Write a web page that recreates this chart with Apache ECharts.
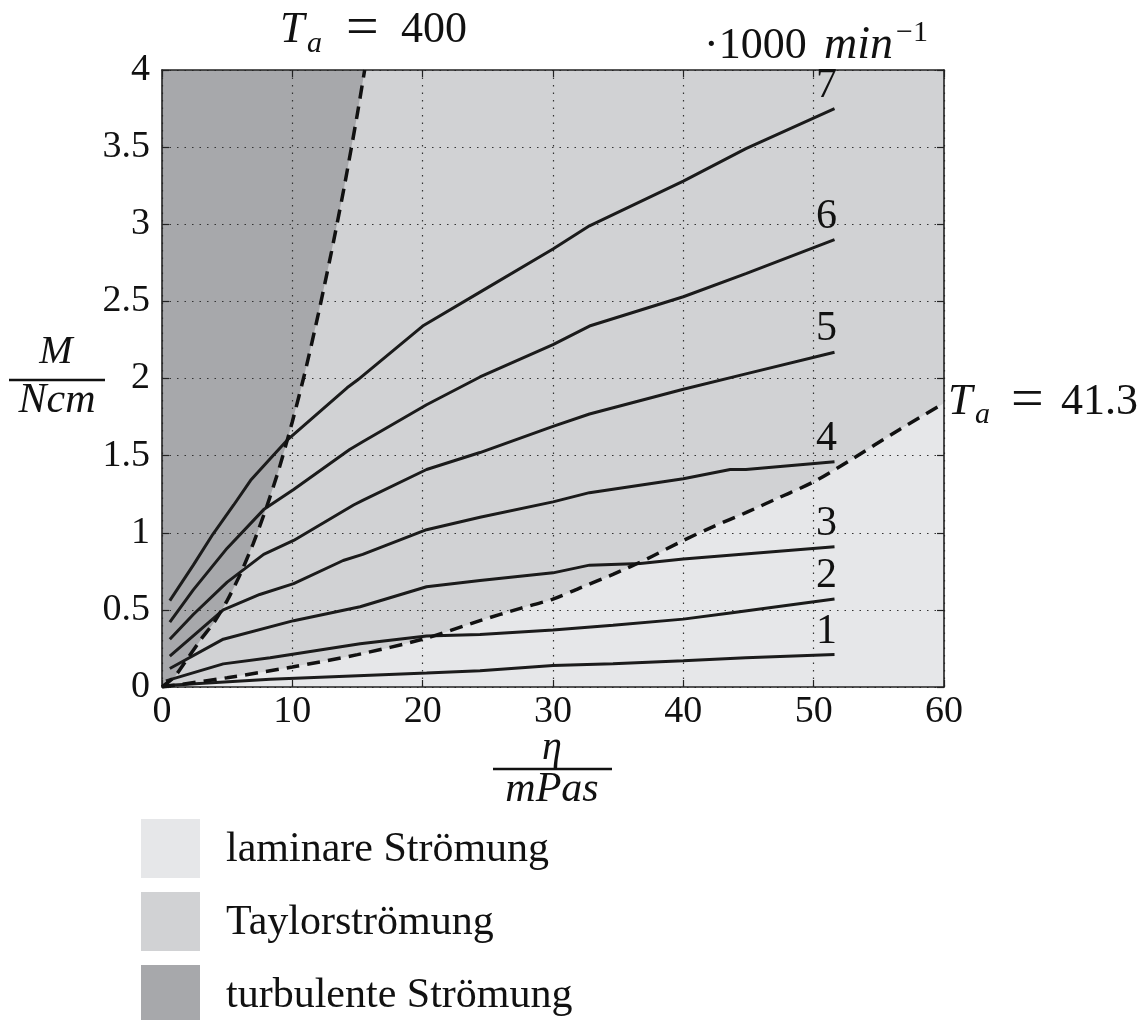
<!DOCTYPE html>
<html>
<head>
<meta charset="utf-8">
<title>Drehmoment über Viskosität</title>
<script src="https://cdn.jsdelivr.net/npm/echarts@6/dist/echarts.min.js"></script>
<style>
  html, body { margin: 0; padding: 0; background: #fff; }
  #main { width: 1147px; height: 1020px; }
</style>
</head>
<body>
<div id="main"></div>
<script>
    // Messkurven M/Ncm über eta/mPas, je Drehzahl in 1000 min^-1
    var n1 = [[0.3,0.01],[8.3,0.05],[20.3,0.09],[24.4,0.105],[30,0.14],[34.6,0.15],[40,0.17],[44.8,0.19],[51.6,0.21]];
    var n2 = [[0.3,0.04],[4.7,0.15],[8.3,0.19],[15.2,0.28],[20.3,0.33],[24.4,0.34],[30,0.37],[34.6,0.40],[40,0.44],[43.6,0.48],[51.6,0.57]];
    var n3 = [[0.6,0.12],[4.7,0.31],[10.1,0.43],[15.2,0.52],[20.3,0.65],[24.4,0.69],[30,0.74],[32.8,0.79],[36.7,0.80],[40,0.83],[51.6,0.91]];
    var n4 = [[0.6,0.20],[4.7,0.50],[7.5,0.60],[10.1,0.67],[13.9,0.82],[15.4,0.86],[20.3,1.02],[24.4,1.10],[30,1.20],[32.8,1.26],[40,1.35],[43.6,1.41],[44.8,1.41],[51.6,1.46]];
    var n5 = [[0.6,0.31],[2.4,0.47],[5,0.68],[7.8,0.86],[10.1,0.95],[14.7,1.18],[15.4,1.21],[20.3,1.41],[24.4,1.52],[30,1.69],[32.8,1.77],[40,1.93],[44.8,2.03],[51.6,2.17]];
    var n6 = [[0.6,0.42],[2.4,0.63],[5,0.90],[7.8,1.15],[10.1,1.28],[14.4,1.54],[15.4,1.59],[20.3,1.83],[24.4,2.01],[30,2.22],[32.8,2.34],[40,2.53],[44.8,2.68],[51.6,2.90]];
    var n7 = [[0.6,0.56],[2.4,0.79],[3.9,0.99],[5.5,1.18],[6.8,1.34],[8.3,1.48],[9.6,1.60],[14.2,1.94],[15,1.99],[20,2.34],[24.4,2.56],[30,2.84],[32.8,2.99],[40,3.28],[44.8,3.49],[51.6,3.75]];
    var kurven = [n1, n2, n3, n4, n5, n6, n7];
    var kurvenNamen = ['1', '2', '3', '4', '5', '6', '7'];

    // Grenzkurven Ta = 41.3 (laminar/Taylor) und Ta = 400 (Taylor/turbulent)
    var ta41 = [[0,0],[5,0.06],[10,0.13],[15,0.21],[20,0.31],[24.4,0.43],[27.5,0.51],[30,0.57],[32,0.64],[34.6,0.73],[37.2,0.83],[40,0.95],[42.3,1.04],[44.8,1.13],[47.4,1.23],[50,1.33],[52.8,1.47],[56.6,1.67],[60,1.84]];
    var ta400 = [[0,0],[1,0.07],[2,0.19],[3,0.31],[4,0.42],[5,0.56],[6,0.73],[7,0.93],[8,1.16],[9,1.42],[10,1.72],[11,2.05],[12,2.42],[13,2.82],[14,3.25],[15,3.72],[15.55,4]];

    var xMin = 0, xMax = 60, xStep = 10;
    var yMin = 0, yMax = 4, yStep = 0.5;

    var farben = { laminar: '#e6e7e9', taylor: '#d1d2d4', turbulent: '#a7a8ab' };
    var legende = [
        ['laminare Strömung', farben.laminar],
        ['Taylorströmung', farben.taylor],
        ['turbulente Strömung', farben.turbulent]
    ];

    var FONT = 'Liberation Serif';
    var myChart = echarts.init(document.getElementById('main'));

    function txt(x, y, s, size, italic, align) {
        return {
            type: 'text', x: x, y: y, z: 10,
            style: {
                text: s, fontFamily: FONT, fontSize: size,
                fontStyle: italic ? 'italic' : 'normal',
                fill: '#111', align: align || 'left', verticalAlign: 'middle'
            }
        };
    }

    function achse(pos, isX, main) {
        return {
            type: 'value',
            position: pos,
            min: isX ? xMin : yMin,
            max: isX ? xMax : yMax,
            interval: isX ? xStep : yStep,
            z: 2,
            axisLine: { show: true, onZero: false, lineStyle: { color: '#222', width: 1.6 } },
            axisTick: { show: true, inside: true, length: 7, lineStyle: { color: '#222', width: 1.2 } },
            axisLabel: {
                show: main, fontFamily: FONT, fontSize: 38, color: '#111', margin: isX ? 6 : 12
            },
            splitLine: { show: main, lineStyle: { type: [1.5, 6], color: '#333', width: 1.2 } }
        };
    }

    var series = [
        {
            type: 'line', data: ta41, smooth: 0.3, symbol: 'none', silent: true, z: 1,
            lineStyle: { width: 0, opacity: 0 },
            areaStyle: { color: farben.laminar, opacity: 1, origin: 'start' }
        },
        {
            type: 'line', data: ta400, smooth: 0.2, symbol: 'none', silent: true, z: 1,
            lineStyle: { width: 0, opacity: 0 },
            areaStyle: { color: farben.turbulent, opacity: 1, origin: 'end' }
        }
    ];

    kurven.forEach(function (d, i) {
        series.push({
            type: 'line', data: d, symbol: 'none', z: 3,
            lineStyle: { color: '#1b1b1b', width: 3 },
            endLabel: {
                show: true, formatter: kurvenNamen[i], align: 'center',
                offset: [-16, -23], fontFamily: FONT, fontSize: 42, color: '#111'
            }
        });
    });

    [[ta41, 0.3], [ta400, 0.2]].forEach(function (g) {
        series.push({
            type: 'line', data: g[0], smooth: g[1], symbol: 'none', z: 4,
            lineStyle: { color: '#111', width: 3.5, type: [13, 8] }
        });
    });

    var graphic = [
        // Ta = 400
        txt(280, 30, 'T', 44, true),
        txt(307, 44, 'a', 30, true),
        txt(346, 30, '=', 58, false),
        txt(401, 30, '400', 44, false),
        // Ta = 41.3
        txt(948, 402, 'T', 44, true),
        txt(975, 415, 'a', 30, true),
        txt(1011, 402, '=', 58, false),
        txt(1061, 402, '41.3', 44, false),
        // Drehzahleinheit
        txt(704, 46, '·1000', 44, false),
        txt(824, 46, 'min', 46, true),
        txt(896, 33, '−1', 30, false),
        // y-Achse M / Ncm
        txt(56, 352, 'M', 40, true, 'center'),
        { type: 'line', z: 10, shape: { x1: 9, y1: 380, x2: 105, y2: 380 }, style: { stroke: '#111', lineWidth: 2.5 } },
        txt(57, 401, 'Ncm', 42, true, 'center'),
        // x-Achse eta / mPas
        txt(552, 748, 'η', 40, true, 'center'),
        { type: 'line', z: 10, shape: { x1: 493, y1: 769, x2: 612, y2: 769 }, style: { stroke: '#111', lineWidth: 2.5 } },
        txt(552, 790, 'mPas', 42, true, 'center')
    ];

    legende.forEach(function (l, i) {
        var y = 819 + i * 73;
        graphic.push({ type: 'rect', z: 10, shape: { x: 141, y: y, width: 59, height: 59 }, style: { fill: l[1] } });
        graphic.push(txt(226, y + 31, l[0], 42, false));
    });

    myChart.setOption({
        animation: false,
        grid: {
            left: 162, right: 203, top: 70, bottom: 333,
            show: true, backgroundColor: farben.taylor, borderWidth: 0
        },
        xAxis: [achse('bottom', true, true), achse('top', true, false)],
        yAxis: [achse('left', false, true), achse('right', false, false)],
        series: series,
        graphic: graphic
    });
</script>
</body>
</html>
